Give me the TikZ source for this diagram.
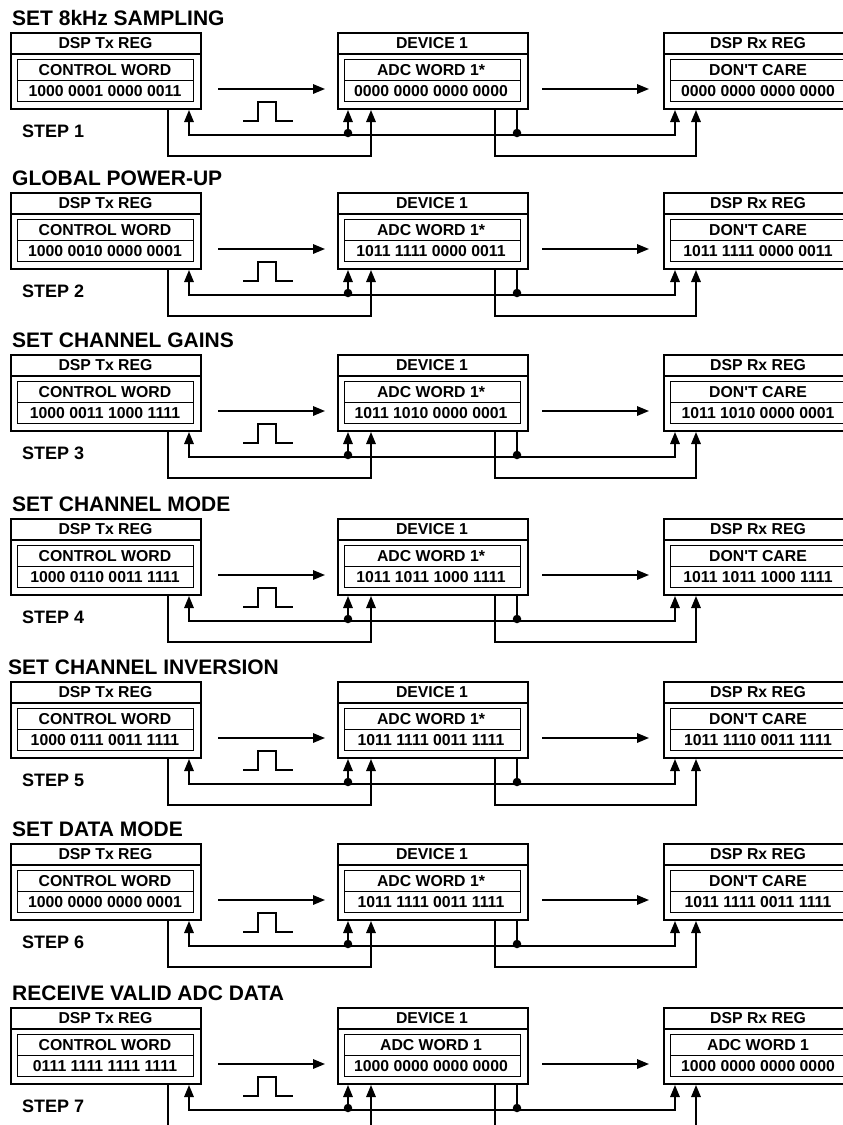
\documentclass[tikz,border=0pt]{standalone}
\usepackage{fontspec}
\setmainfont{Liberation Sans}
\usetikzlibrary{arrows.meta}
\begin{document}
\begin{tikzpicture}[x=1pt,y=-1pt,
  outerbox/.style={draw,line width=2pt,inner sep=0,minimum width=190pt,minimum height=76pt,anchor=north west},
  innerbox/.style={draw,line width=1.3pt,inner sep=0,minimum width=176pt,minimum height=42pt,anchor=north west},
  txt/.style={font=\fontsize{15.8}{16}\selectfont\bfseries,anchor=base,inner sep=0},
  ttl/.style={font=\fontsize{21}{22}\selectfont\bfseries,anchor=base west,inner sep=0},
  stp/.style={font=\fontsize{18}{20}\selectfont\bfseries,anchor=base west,inner sep=0},
  conn/.style={line width=1.6pt},
  arr/.style={conn,-{Triangle[length=12pt,width=9.5pt]}},
  barr/.style={conn,{Triangle[length=12pt,width=9.5pt]}-{Triangle[length=12pt,width=9.5pt]}},
  dot/.style={fill,circle,inner sep=0,minimum size=8.5pt}
]
\useasboundingbox (0,0) rectangle (843,1125);
\clip (0,0) rectangle (843,1125);
\foreach \top/\titx/\title/\tw/\dl/\dw/\rl/\rw/\n in {
 32/12/SET 8kHz SAMPLING/1000 0001 0000 0011/ADC WORD 1*/0000 0000 0000 0000/DON\textquotesingle T CARE/0000 0000 0000 0000/1,
 192/12/GLOBAL POWER-UP/1000 0010 0000 0001/ADC WORD 1*/1011 1111 0000 0011/DON\textquotesingle T CARE/1011 1111 0000 0011/2,
 354/12/SET CHANNEL GAINS/1000 0011 1000 1111/ADC WORD 1*/1011 1010 0000 0001/DON\textquotesingle T CARE/1011 1010 0000 0001/3,
 518/12/SET CHANNEL MODE/1000 0110 0011 1111/ADC WORD 1*/1011 1011 1000 1111/DON\textquotesingle T CARE/1011 1011 1000 1111/4,
 681/8/SET CHANNEL INVERSION/1000 0111 0011 1111/ADC WORD 1*/1011 1111 0011 1111/DON\textquotesingle T CARE/1011 1110 0011 1111/5,
 843/12/SET DATA MODE/1000 0000 0000 0001/ADC WORD 1*/1011 1111 0011 1111/DON\textquotesingle T CARE/1011 1111 0011 1111/6,
 1007/12/RECEIVE VALID ADC DATA/0111 1111 1111 1111/ADC WORD 1/1000 0000 0000 0000/ADC WORD 1/1000 0000 0000 0000/7}
{
  % title and step label
  \node[ttl] (title\n) at (\titx,\top-6.5) {\title};
  \node[stp] (step\n) at (22,\top+105) {STEP \n};
  % boxes
  \node[outerbox] (tx\n) at (10,\top) {};
  \node[outerbox] (dev\n) at (337,\top) {};
  \node[outerbox] (rx\n) at (663,\top) {};
  \foreach \b in {tx,dev,rx}{
    \draw[line width=1.3pt] ([yshift=-22pt]\b\n.north west) -- ([yshift=-22pt]\b\n.north east);
  }
  \node[innerbox] (txi\n) at (17,\top+27) {};
  \node[innerbox] (devi\n) at (344,\top+27) {};
  \node[innerbox] (rxi\n) at (670,\top+27) {};
  \foreach \b in {txi,devi,rxi}{
    \draw[line width=1.3pt] (\b\n.west) -- (\b\n.east);
  }
  % texts
  \node[txt] (txh\n) at (105.5,\top+16.6) {DSP Tx REG};
  \node[txt] (txl\n) at (105,\top+43.6) {CONTROL WORD};
  \node[txt] (txw\n) at (105,\top+64.6) {\tw};
  \node[txt] (devh\n) at (432,\top+16.6) {DEVICE 1};
  \node[txt] (devl\n) at (431,\top+43.6) {\dl};
  \node[txt] (devw\n) at (431,\top+64.6) {\dw};
  \node[txt] (rxh\n) at (758,\top+16.6) {DSP Rx REG};
  \node[txt] (rxl\n) at (758,\top+43.6) {\rl};
  \node[txt] (rxw\n) at (758,\top+64.6) {\rw};
  % data arrows
  \draw[arr] ([xshift=16pt,yshift=21pt]tx\n.south east) -- ([xshift=-12pt,yshift=21pt]dev\n.south west);
  \draw[arr] ([xshift=13pt,yshift=21pt]dev\n.south east) -- ([xshift=-14pt,yshift=21pt]rx\n.south west);
  % clock pulse
  \draw[conn] (243,\top+89) -- ++(15,0) -- ++(0,-19) -- ++(18,0) -- ++(0,19) -- ++(17,0);
  % frame sync bus
  \draw[barr] ([xshift=179pt]tx\n.south west) -- ++(0,25) -| ([xshift=12pt]rx\n.south west);
  \node[dot] (ja\n) at (348,\top+101) {};
  \node[dot] (jb\n) at (517,\top+101) {};
  \draw[arr] (ja\n.center) -- ([xshift=11pt]dev\n.south west);
  \draw[conn] (jb\n.center) -- ([xshift=180pt]dev\n.south west);
  % serial data loops
  \draw[arr] ([xshift=158pt]tx\n.south west) -- ++(0,46) -| ([xshift=34pt]dev\n.south west);
  \draw[arr] ([xshift=158pt]dev\n.south west) -- ++(0,46) -| ([xshift=33pt]rx\n.south west);
}
\end{tikzpicture}
\end{document}
